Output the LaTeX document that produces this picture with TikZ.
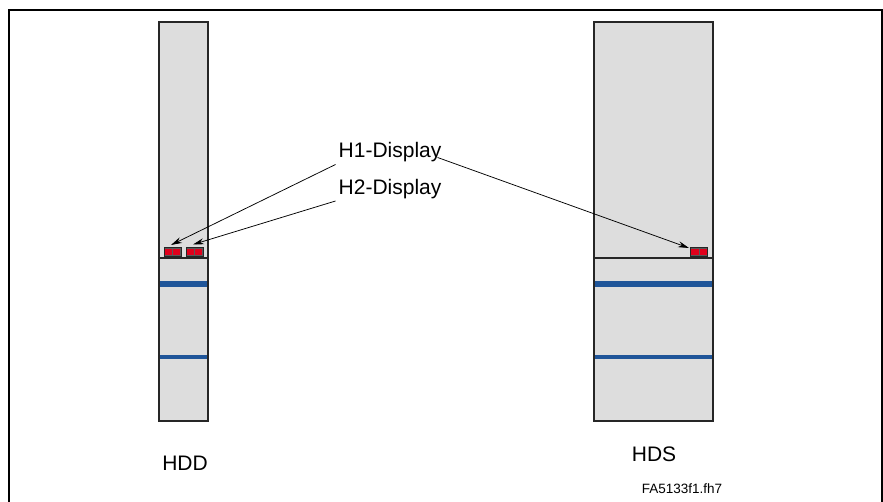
\documentclass[tikz,border=0pt]{standalone}
\usepackage{fontspec}
\setmainfont{Liberation Sans}
\usetikzlibrary{arrows.meta}
\definecolor{colfill}{HTML}{DDDDDD}
\definecolor{bandblue}{HTML}{1F5599}
\definecolor{dispred}{HTML}{E0001B}
\tikzset{
  frame/.style={line width=2.2pt},
  column/.style={draw=black!85, fill=colfill, line width=1.3pt},
  band/.style={draw=none, fill=bandblue},
  disp/.style={draw=black!85, fill=black!65, line width=0.9pt, minimum width=17pt, minimum height=8.5pt, inner sep=0pt},
  lbl/.style={font=\fontsize{21}{24}\selectfont, inner sep=0pt},
  ptr/.style={line width=0.75pt, -{Stealth[length=11pt, width=6pt]}},
}
\newcommand{\dispsquares}[1]{%
  \fill[dispred] ([xshift=1.3pt,yshift=-1.3pt]#1.north west) rectangle ([xshift=-0.5pt,yshift=1.3pt]#1.south);
  \fill[dispred] ([xshift=0.5pt,yshift=-1.3pt]#1.north) rectangle ([xshift=-1.3pt,yshift=1.3pt]#1.south east);
}
\begin{document}
\begin{tikzpicture}[x=1pt,y=-1pt]
\useasboundingbox (0,0) rectangle (883,502);
% frame (open at bottom)
\draw[frame] (9,502) -- (9,10) -- (882,10) -- (882,502);
% left column (HDD)
\draw[column] (159,22) rectangle (208,258);
\draw[column] (159,258) rectangle (208,421);
\fill[band] (159.6,281.5) rectangle (207.4,287);
\fill[band] (159.6,354.8) rectangle (207.4,359.2);
% right column (HDS)
\draw[column] (594,22) rectangle (713,258);
\draw[column] (594,258) rectangle (713,421);
\fill[band] (594.6,281.5) rectangle (712.4,287);
\fill[band] (594.6,354.8) rectangle (712.4,359.2);
% displays
\node[disp] (d1) at (172.5,252) {};
\node[disp] (d2) at (194.5,252) {};
\node[disp] (d3) at (699,252) {};
\dispsquares{d1}
\dispsquares{d2}
\dispsquares{d3}
% labels
\node[lbl, anchor=base west] (h1) at (338.5,157.5) {H1-Display};
\node[lbl, anchor=base west] (h2) at (338.5,195) {H2-Display};
\node[lbl] (hdd) at (185,463) {HDD};
\node[lbl] (hds) at (654,454) {HDS};
\node[font=\fontsize{13.5}{15}\selectfont, inner sep=0pt] (fname) at (682,489) {FA5133f1.fh7};
% pointers
\coordinate (h1l) at ([xshift=-3pt,yshift=-7pt]h1.base west);
\coordinate (h2l) at ([xshift=-3pt,yshift=-6pt]h2.base west);
\coordinate (h1r) at ([xshift=-4pt,yshift=0pt]h1.base east);
\coordinate (t1) at (171,245);
\coordinate (t2) at (193,244.5);
\coordinate (t3) at (689,248);
\draw[ptr] (h1l) -- (t1);
\draw[ptr] (h2l) -- (t2);
\draw[ptr] (h1r) -- (t3);
\end{tikzpicture}
\end{document}
